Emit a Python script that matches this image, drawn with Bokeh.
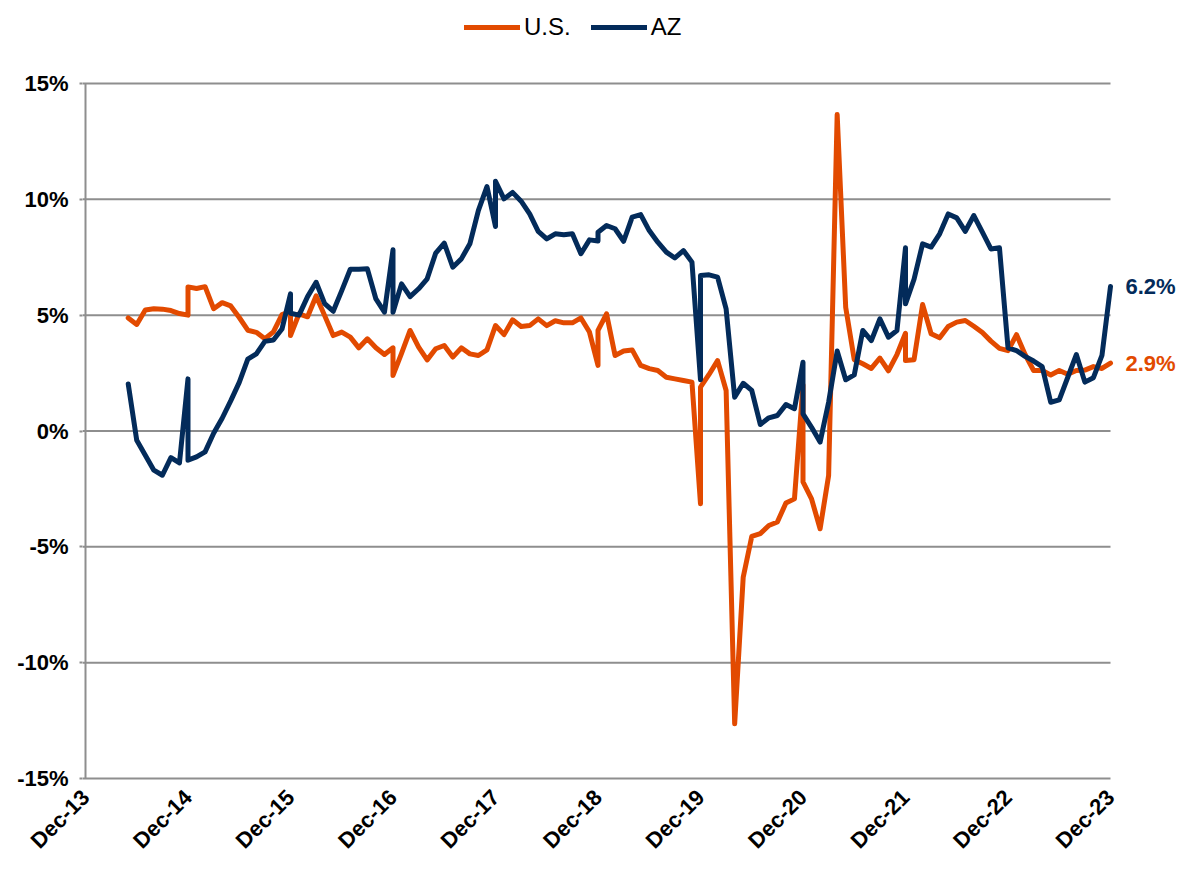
import math
import pandas as pd
from bokeh.plotting import figure
from bokeh.models import FixedTicker, PrintfTickFormatter, Legend, LegendItem, ColumnDataSource, Label
from bokeh.embed import file_html
from bokeh.resources import INLINE

# ---- categories: monthly periods, Dec-14..Dec-21 appear twice (pre/post benchmark) ----
first_period = "2014-05"
last_period = "2023-12"
dup_dec_years = [2014, 2015, 2016, 2017, 2018, 2019, 2020, 2021]

periods = []
p_ = pd.Period(first_period, "M")
end_ = pd.Period(last_period, "M")
while p_ <= end_:
    periods.append(p_)
    if p_.month == 12 and p_.year in dup_dec_years:
        periods.append(p_)
    p_ += 1

# ---- series values (%) ----
us = [4.88, 4.60, 5.22, 5.28, 5.26, 5.20, 5.07, 5.00, 6.22, 6.15, 6.23, 5.28, 5.54, 5.40,
      4.90, 4.35, 4.26, 3.98, 4.28, 5.02, 5.15, 4.12, 5.06, 4.93, 5.83, 4.98, 4.12, 4.27,
      4.05, 3.59, 3.98, 3.59, 3.30, 3.59, 2.40, 3.35, 4.34, 3.62, 3.07, 3.55, 3.69, 3.19,
      3.59, 3.33, 3.26, 3.50, 4.55, 4.55, 4.16, 4.80, 4.51, 4.55, 4.84, 4.55, 4.76, 4.67,
      4.67, 4.88, 4.27, 2.83, 4.34, 5.06, 3.26, 3.45, 3.50, 2.83, 2.69, 2.61, 2.32, 2.25,
      2.18, 2.11, -3.14, 1.89, 2.44, 3.04, 1.75, -12.64, -6.31, -4.55, -4.43, -4.08, -3.93,
      -3.11, -2.93, 2.00, -2.20, -2.93, -4.22, -1.92, 13.66, 5.34, 3.08, 2.90, 2.70, 3.15,
      2.60, 3.30, 4.22, 3.04, 3.08, 5.46, 4.20, 4.02, 4.51, 4.70, 4.77, 4.52, 4.25, 3.88,
      3.57, 3.47, 4.16, 3.30, 2.61, 2.61, 2.42, 2.61, 2.45, 2.61, 2.63, 2.78, 2.70, 2.93]

az = [2.03, -0.40, -1.05, -1.69, -1.91, -1.15, -1.38, 2.25, -1.26, -1.12, -0.90, -0.10, 0.55,
      1.30, 2.10, 3.10, 3.33, 3.87, 3.93, 4.40, 5.92, 5.08, 5.00, 5.80, 6.42, 5.50, 5.17,
      6.06, 6.98, 6.98, 7.00, 5.70, 5.13, 7.82, 5.13, 6.35, 5.80, 6.14, 6.57, 7.68, 8.11,
      7.07, 7.43, 8.08, 9.52, 10.55, 8.83, 10.78, 10.02, 10.30, 9.92, 9.37, 8.62, 8.29, 8.51,
      8.47, 8.51, 7.65, 8.25, 8.20, 8.58, 8.87, 8.73, 8.19, 9.23, 9.34, 8.65, 8.15, 7.72,
      7.47, 7.79, 7.29, 2.21, 6.71, 6.74, 6.64, 5.27, 1.46, 2.06, 1.75, 0.28, 0.57, 0.67,
      1.14, 0.96, 2.97, 0.74, 0.16, -0.48, 1.24, 3.45, 2.21, 2.42, 4.34, 3.90, 4.84, 4.05,
      4.34, 7.91, 5.49, 6.55, 8.08, 7.94, 8.51, 9.37, 9.20, 8.62, 9.30, 8.58, 7.86, 7.91,
      3.59, 3.47, 3.22, 3.02, 2.78, 1.24, 1.34, 2.32, 3.30, 2.11, 2.30, 3.26, 6.24]

series_names = ["U.S.", "AZ"]
series_colors = ["#E24A00", "#032B5A"]

tick_labels = ["Dec-13", "Dec-14", "Dec-15", "Dec-16", "Dec-17", "Dec-18",
               "Dec-19", "Dec-20", "Dec-21", "Dec-22", "Dec-23"]
y_ticks = [-15, -10, -5, 0, 5, 10, 15]

# month index: Dec-13 = 0
x = [(pp.year - 2013) * 12 + (pp.month - 12) for pp in periods]
x_ticks = [12 * i for i in range(len(tick_labels))]
x_lo, x_hi = x_ticks[0], x_ticks[-1]
y_lo, y_hi = y_ticks[0], y_ticks[-1]

FONT = "Liberation Sans"
GRID = "#8E8E8E"

# layout: the plotting frame is enlarged so that the legend (top) and the end
# labels (right) sit inside it and are not clipped.
W, H = 1180, 866
fl, fb = 82, 781                     # frame left / bottom in canvas px
px_per_x = 1025 / (x_hi - x_lo)      # axis span 85..1110 px
px_per_y = 695 / (y_hi - y_lo)       # axis span 83..778 px
xr = (x_lo - (85 - fl) / px_per_x, x_lo + (W - fl - (85 - fl)) / px_per_x)
yr = (y_lo - (fb - 778) / px_per_y, y_hi + 83 / px_per_y)

p = figure(width=W, height=H, output_backend="svg", toolbar_location=None,
           x_range=xr, y_range=yr,
           min_border_left=fl, min_border_right=0, min_border_top=0, min_border_bottom=H - fb)
p.outline_line_color = None
p.background_fill_color = "white"
p.border_fill_color = "white"
p.xgrid.grid_line_color = None
p.ygrid.grid_line_color = None

# gridlines and y-axis line limited to the data area
p.segment(x0=[xr[0]] * len(y_ticks), x1=[x_hi] * len(y_ticks), y0=y_ticks, y1=y_ticks,
          line_color=GRID, line_width=2)
p.segment(x0=[x_lo], x1=[x_lo], y0=[y_lo], y1=[y_hi], line_color=GRID, line_width=2)

src = ColumnDataSource(dict(x=x, us=us, az=az))
r_us = p.line("x", "us", source=src, line_color=series_colors[0], line_width=5,
              line_join="round", line_cap="round")
r_az = p.line("x", "az", source=src, line_color=series_colors[1], line_width=5,
              line_join="round", line_cap="round")

# end labels
for val, col in [(az[-1], series_colors[1]), (us[-1], series_colors[0])]:
    p.add_layout(Label(x=x[-1], y=val, text="%.1f%%" % val, x_offset=15,
                       text_color=col, text_baseline="middle", text_align="left",
                       text_font=FONT, text_font_size="22px", text_font_style="bold"))

# axes
p.yaxis.ticker = FixedTicker(ticks=y_ticks)
p.yaxis.formatter = PrintfTickFormatter(format="%d%%")
p.yaxis.axis_line_color = None
p.yaxis.major_tick_line_color = GRID
p.yaxis.major_tick_line_width = 2
p.yaxis.major_tick_out = 3
p.yaxis.major_tick_in = 0
p.yaxis.minor_tick_line_color = None
p.yaxis.major_label_text_font = FONT
p.yaxis.major_label_text_font_style = "bold"
p.yaxis.major_label_text_font_size = "22px"
p.yaxis.major_label_text_color = "black"
p.yaxis.major_label_standoff = 11

p.xaxis.ticker = FixedTicker(ticks=x_ticks)
p.xaxis.major_label_overrides = {t: lab for t, lab in zip(x_ticks, tick_labels)}
p.xaxis.major_label_orientation = math.pi / 4
p.xaxis.axis_line_color = None
p.xaxis.major_tick_line_color = None
p.xaxis.minor_tick_line_color = None
p.xaxis.major_label_text_font = FONT
p.xaxis.major_label_text_font_style = "bold"
p.xaxis.major_label_text_font_size = "22px"
p.xaxis.major_label_text_color = "black"
p.xaxis.major_label_standoff = 6

legend = Legend(items=[LegendItem(label=series_names[0], renderers=[r_us]),
                       LegendItem(label=series_names[1], renderers=[r_az])],
                location=(382, fb - 41), orientation="horizontal",
                label_text_font=FONT, label_text_font_size="24px", label_text_color="black",
                glyph_width=56, glyph_height=24, label_standoff=4, spacing=20,
                padding=0, margin=0, border_line_color=None, background_fill_alpha=0)
p.add_layout(legend, "center")

open("out.html", "w").write(file_html(p, INLINE))
